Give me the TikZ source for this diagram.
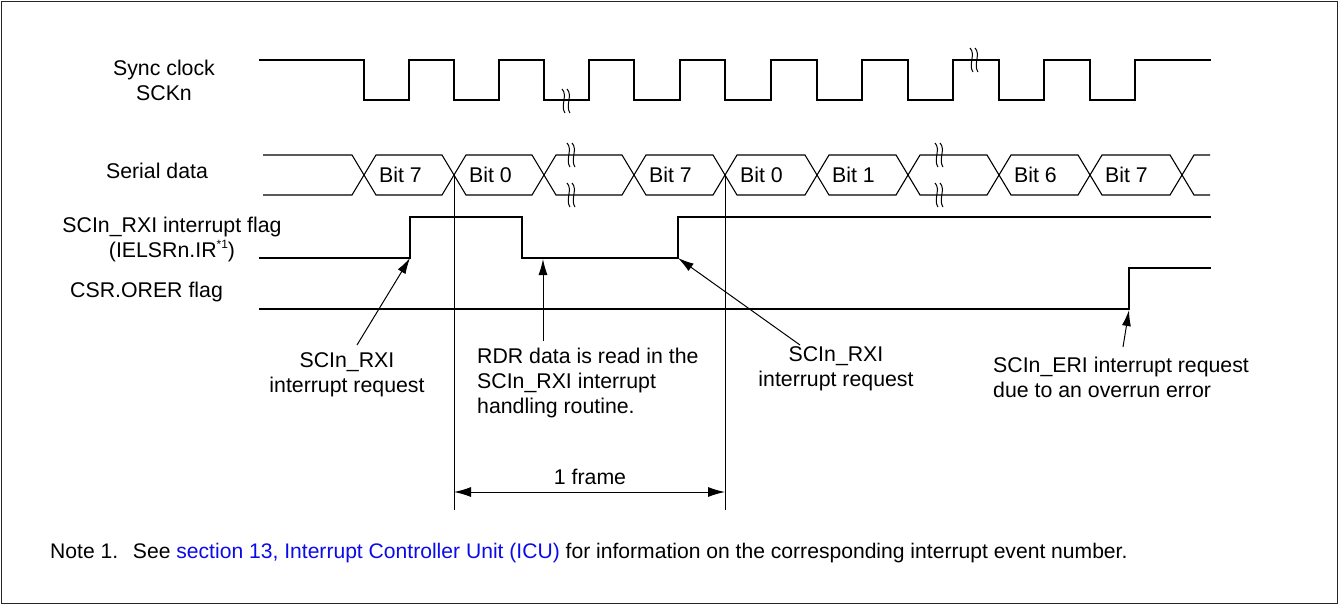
\documentclass[tikz,border=0pt]{standalone}
\usepackage{fontspec}
\setmainfont{Liberation Sans}
\usetikzlibrary{arrows.meta}
\definecolor{linkblue}{RGB}{10,10,235}
\newcommand{\brkmk}[2]{%
  \draw[brk] (#1-5,#2-12) .. controls (#1+1,#2-6) and (#1-7,#2+5) .. (#1-2,#2+12);
  \draw[brk] (#1,#2-12) .. controls (#1+6,#2-6) and (#1-2,#2+5) .. (#1+3,#2+12);}
\begin{document}
\begin{tikzpicture}[x=1pt,y=-1pt,
  sig/.style={line width=1.8pt, line join=miter, line cap=rect},
  dat/.style={line width=1.1pt, line join=miter},
  thinln/.style={line width=1pt},
  brk/.style={line width=1pt},
  ptr/.style={line width=1pt, -{Latex[length=16pt,width=9pt]}},
  lbl/.style={font=\fontsize{21.3}{25}\selectfont, inner sep=0pt, align=center},
  bitlbl/.style={font=\fontsize{21.3}{25}\selectfont, inner sep=0pt, anchor=west}
]
\useasboundingbox (0,0) rectangle (1339,605);
\draw[line width=1.6pt, black!85] (1.5,1.5) rectangle (1337.5,603.5);

% ---- signal labels
\node[lbl] (sck) at (164,80) {Sync clock\\SCKn};
\node[lbl] (sd) at (157,171) {Serial data};
\node[lbl] (rxf) at (172,239) {SCIn\_RXI interrupt flag\\(IELSRn.IR\raisebox{0.75ex}{\fontsize{12}{12}\selectfont *1})};
\node[lbl, anchor=west] (orf) at (70,292) {CSR.ORER flag};

% ---- clock
\draw[sig] (260,60) -- (364,60) -- (364,100) -- (409,100) -- (409,60) -- (454,60) -- (454,100)
  -- (499,100) -- (499,60) -- (544,60) -- (544,100) -- (589,100) -- (589,60) -- (634,60)
  -- (634,100) -- (680,100) -- (680,60) -- (725,60) -- (725,100) -- (771,100) -- (771,60)
  -- (817,60) -- (817,100) -- (862,100) -- (862,60) -- (908,60) -- (908,100) -- (953,100)
  -- (953,60) -- (999,60) -- (999,100) -- (1044,100) -- (1044,60) -- (1090,60) -- (1090,100)
  -- (1135,100) -- (1135,60) -- (1210,60);
\brkmk{567}{101}
\brkmk{975}{60}

% ---- serial data
\draw[dat] (263,155) -- (352,155) -- (364,175) -- (352,195) -- (263,195);
\foreach \a/\b in {364/454,454/544,544/634,634/725,725/817,817/908,908/999,999/1090,1090/1182}{
  \draw[dat] (\a,175) -- (\a+12,155) -- (\b-12,155) -- (\b,175) -- (\b-12,195) -- (\a+12,195) -- cycle;
}
\draw[dat] (1210,155) -- (1194,155) -- (1182,175) -- (1194,195) -- (1210,195);
\brkmk{572}{155}
\brkmk{572}{195}
\brkmk{940}{155}
\brkmk{940}{195}
\node[bitlbl] (b1) at (379,175) {Bit 7};
\node[bitlbl] (b2) at (469,175) {Bit 0};
\node[bitlbl] (b3) at (649,175) {Bit 7};
\node[bitlbl] (b4) at (740,175) {Bit 0};
\node[bitlbl] (b5) at (832,175) {Bit 1};
\node[bitlbl] (b6) at (1014,175) {Bit 6};
\node[bitlbl] (b7) at (1105,175) {Bit 7};

% ---- RXI flag and ORER flag
\draw[sig] (260,258) -- (410,258) -- (410,217) -- (522,217) -- (522,258) -- (678,258) -- (678,217) -- (1210,217);
\draw[sig] (260,309) -- (1129,309) -- (1129,268) -- (1210,268);
\coordinate (r1) at (410,258);
\coordinate (rd) at (543,259);
\coordinate (r2) at (678,258);
\coordinate (e1) at (1129,310);

% ---- frame markers
\coordinate (f0) at (454,175);
\coordinate (f1) at (725,175);
\coordinate (f0b) at (454,510);
\coordinate (f1b) at (725,510);
\draw[thinln] (f0) -- (f0b);
\draw[thinln] (f1) -- (f1b);
\coordinate (a0) at (454,492);
\coordinate (a1) at (725,492);
\draw[thinln, {Latex[length=17pt,width=10pt]}-{Latex[length=17pt,width=10pt]}] (a0) -- (a1);
\node[lbl] (fr) at (590,477) {1 frame};

% ---- annotations
\node[lbl] (n1) at (347,375) {SCIn\_RXI\\interrupt request};
\node[lbl, align=left, anchor=west] (n2) at (477,383) {RDR data is read in the\\SCIn\_RXI interrupt\\handling routine.};
\node[lbl] (n3) at (836,369) {SCIn\_RXI\\interrupt request};
\node[lbl, align=left, anchor=west] (n4) at (993,377) {SCIn\_ERI interrupt request\\due to an overrun error};
\coordinate (t1) at (357,345);
\coordinate (t2) at (543,341);
\coordinate (t3) at (800,345);
\coordinate (t4) at (1123,347);
\draw[ptr] (t1) -- (r1);
\draw[ptr] (t2) -- (rd);
\draw[ptr] (t3) -- (r2);
\draw[ptr] (t4) -- (e1);

% ---- note
\node[font=\fontsize{21.1}{25}\selectfont, inner sep=0pt, anchor=west] (note) at (50,553)
  {Note 1.\hspace{0.7em}See \textcolor{linkblue}{section 13, Interrupt Controller Unit (ICU)} for information on the corresponding interrupt event number.};
\end{tikzpicture}
\end{document}
